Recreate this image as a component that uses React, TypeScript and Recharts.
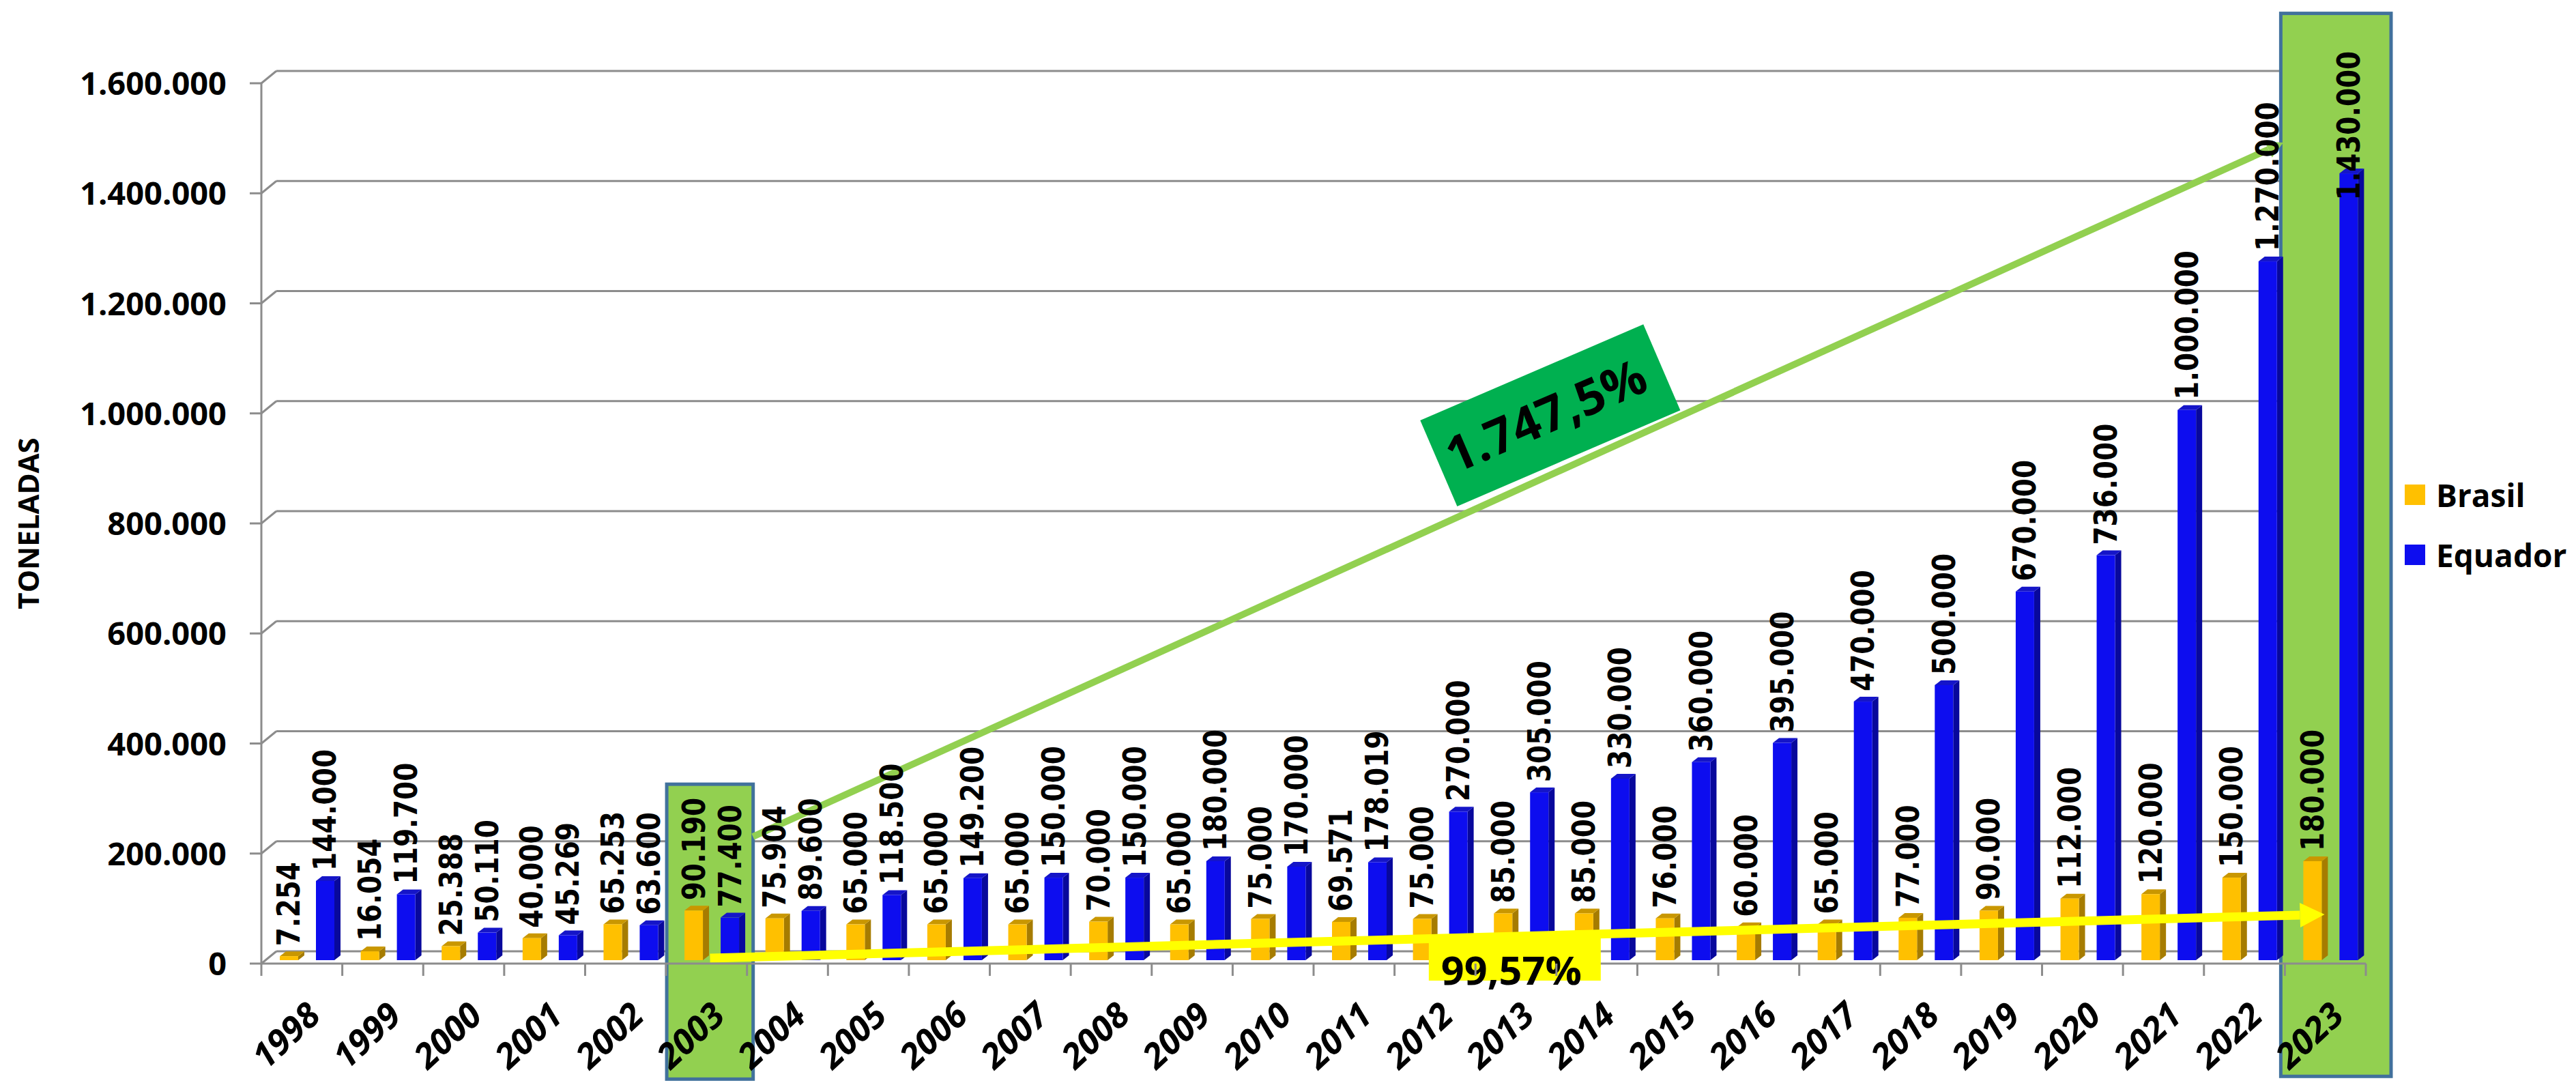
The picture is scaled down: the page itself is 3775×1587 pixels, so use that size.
import React from 'react';
import {
  BarChart, Bar, XAxis, YAxis, CartesianGrid, ReferenceArea, ReferenceLine,
  ReferenceDot, LabelList, Legend,
} from 'recharts';

// banana exports, toneladas
const years = [
  '1998', '1999', '2000', '2001', '2002', '2003', '2004', '2005', '2006', '2007', '2008', '2009', '2010',
  '2011', '2012', '2013', '2014', '2015', '2016', '2017', '2018', '2019', '2020', '2021', '2022', '2023',
];
const brasil = [
  7254, 16054, 25388, 40000, 65253, 90190, 75904, 65000, 65000, 65000, 70000, 65000, 75000,
  69571, 75000, 85000, 85000, 76000, 60000, 65000, 77000, 90000, 112000, 120000, 150000, 180000,
];
const equador = [
  144000, 119700, 50110, 45269, 63600, 77400, 89600, 118500, 149200, 150000, 150000, 180000, 170000,
  178019, 270000, 305000, 330000, 360000, 395000, 470000, 500000, 670000, 736000, 1000000, 1270000, 1430000,
];
const yTicks = [0, 200000, 400000, 600000, 800000, 1000000, 1200000, 1400000, 1600000];

const data = years.map((year, i) => ({ year, brasil: brasil[i], equador: equador[i] }));

const baseIdx = years.indexOf('2003');
const lastIdx = years.length - 1;

const W = 3775;
const H = 1587;
const AXIS_X = 383;
const PLOT_TOP = 122;
const PLOT_BOTTOM = 1412;
const PLOT_RIGHT = 3467;
const DX = 22;
const DY = 18;
const GRID = '#8c8c8c';
const FONT = '"Open Sans", "Noto Sans", sans-serif';

const fmt = (v: number) => Math.round(v).toString().replace(/\B(?=(\d{3})+(?!\d))/g, '.');
const fmtPct = (v: number, dec: number) => {
  const f = Math.pow(10, dec);
  const [i, d] = (Math.floor(v * f) / f).toFixed(dec).split('.');
  return fmt(Number(i)) + ',' + d + '%';
};
const greenPct = fmtPct((equador[lastIdx] / equador[baseIdx] - 1) * 100, 1);
const yellowPct = fmtPct((brasil[lastIdx] / brasil[baseIdx] - 1) * 100, 2);

const bar3d = (front: string, side: string, top: string) => (p: any) => {
  const { x, y, width, height } = p;
  if (width == null || height == null || height <= 0) return <g />;
  const bx = x + 8;
  const by = y - 5;
  const d = 9;
  const e = 7;
  return (
    <g>
      <polygon
        points={`${bx + width},${by} ${bx + width + d},${by - e} ${bx + width + d},${by + height - e} ${bx + width},${by + height}`}
        fill={side}
      />
      <polygon points={`${bx},${by} ${bx + d},${by - e} ${bx + width + d},${by - e} ${bx + width},${by}`} fill={top} />
      <rect x={bx} y={by} width={width} height={height} fill={front} />
    </g>
  );
};

const valueLabel = (p: any) => {
  const { x, y, width, value } = p;
  const s = fmt(Number(value));
  const len = s.split('').reduce((a, c) => a + (c === '.' ? 13 : 27.5), 0);
  const lx = x + 8 + width / 2 + 16;
  // keep the label inside the chart, as the original does for the tallest bar
  const ly = Math.max(y - 20, 75 + len);
  return (
    <text
      x={lx}
      y={ly}
      transform={`rotate(-90 ${lx} ${ly})`}
      fontFamily='"DejaVu Sans", sans-serif'
      fontWeight="bold"
      fontSize={46}
      textLength={len}
      lengthAdjust="spacingAndGlyphs"
      fill="#000"
    >
      {s}
    </text>
  );
};

const YTick = (p: any) => (
  <text x={p.x} y={p.y} dy={17} textAnchor="end" fontFamily={FONT} fontWeight="bold" fontSize={47} fill="#000">
    {fmt(p.payload.value)}
  </text>
);

const XTick = (p: any) => {
  const { x, payload, index, visibleTicksCount } = p;
  const off = payload.offset || 59.3;
  const lx = x + 30;
  const ly = PLOT_BOTTOM + 80;
  return (
    <g>
      <line x1={x - off} y1={PLOT_BOTTOM} x2={x - off} y2={PLOT_BOTTOM + 18} stroke={GRID} strokeWidth={3} />
      {index === visibleTicksCount - 1 && (
        <line x1={x + off} y1={PLOT_BOTTOM} x2={x + off} y2={PLOT_BOTTOM + 18} stroke={GRID} strokeWidth={3} />
      )}
      <text
        x={lx}
        y={ly}
        transform={`rotate(-43 ${lx} ${ly})`}
        textAnchor="end"
        fontFamily={FONT}
        fontWeight="bold"
        fontStyle="italic"
        fontSize={51}
        fill="#000"
      >
        {payload.value}
      </text>
    </g>
  );
};

const gridLine = (p: any) => {
  const { x1, y1, x2 } = p;
  const floor = y1 > PLOT_BOTTOM - 3;
  return (
    <g key={p.key}>
      <line x1={x1} y1={y1} x2={x1 + DX} y2={y1 - DY} stroke={GRID} strokeWidth={3} />
      <line x1={x1 + DX} y1={y1 - DY} x2={x2 + DX + 2} y2={y1 - DY} stroke={GRID} strokeWidth={3} />
      {floor && <line x1={x2} y1={y1} x2={x2 + DX + 2} y2={y1 - DY} stroke={GRID} strokeWidth={3} />}
    </g>
  );
};

const highlight = (padL: number, padR: number) => (p: any) => (
  <rect
    x={p.x - padL}
    y={p.y}
    width={p.width + padL + padR}
    height={p.height}
    fill="#92D050"
    stroke="#41719C"
    strokeWidth={5}
  />
);

const arrow = (color: string, w: number, headL: number, headW: number) => (p: any) => {
  const { x1, y1, x2, y2 } = p;
  const a = Math.atan2(y2 - y1, x2 - x1);
  const c = Math.cos(a);
  const s = Math.sin(a);
  const bx = x2 - headL * c;
  const by = y2 - headL * s;
  const nx = -s * headW / 2;
  const ny = c * headW / 2;
  return (
    <g>
      <line x1={x1} y1={y1} x2={bx} y2={by} stroke={color} strokeWidth={w} />
      <polygon points={`${x2},${y2} ${bx + nx},${by + ny} ${bx - nx},${by - ny}`} fill={color} />
    </g>
  );
};

const greenLabel = (p: any) => (
  <g transform={`translate(${p.cx},${p.cy}) rotate(-23.3)`}>
    <rect x={-178} y={-68} width={356} height={137} fill="#00B050" />
    <text x={-6} y={24} textAnchor="middle" fontFamily={FONT} fontWeight="bold" fontSize={72} fill="#000">
      {greenPct}
    </text>
  </g>
);

const yellowLabel = (p: any) => (
  <g>
    <rect x={p.cx - 126} y={p.cy - 32} width={252} height={64} fill="#FFFF00" />
    <text
      x={p.cx - 5}
      y={p.cy + 38}
      textAnchor="middle"
      fontFamily={FONT}
      fontWeight="bold"
      fontSize={58}
      textLength={206}
      lengthAdjust="spacingAndGlyphs"
      fill="#000"
    >
      {yellowPct}
    </text>
  </g>
);

const legendContent = (p: any) => (
  <div style={{ fontFamily: FONT, fontWeight: 700, fontSize: 46, color: '#000' }}>
    {(p.payload || []).map((e: any) => (
      <div key={e.value} style={{ display: 'flex', alignItems: 'center', height: 88 }}>
        <span style={{ display: 'inline-block', width: 30, height: 30, background: e.color, marginRight: 16 }} />
        {e.value}
      </div>
    ))}
  </div>
);

// annotation axis: 0 = left edge of the plot, last = right edge
const SPAN = years.length - 1;

export default function App() {
  return (
    <div style={{ width: W, height: H, background: '#fff', position: 'relative' }}>
      <style>{'body{margin:0;background:#fff}'}</style>
      <BarChart
        width={W}
        height={H}
        data={data}
        margin={{ top: PLOT_TOP, right: W - PLOT_RIGHT, bottom: 0, left: 0 }}
        barGap={26}
        barSize={27}
      >
        <CartesianGrid vertical={false} horizontal={gridLine} />
        <ReferenceArea x1="2003" x2="2003" y1={-210000} y2={326000} ifOverflow="visible" shape={highlight(-1, 9)} />
        <ReferenceArea x1="2023" x2="2023" y1={-205000} y2={1727000} ifOverflow="visible" shape={highlight(6, 37)} />
        <XAxis
          dataKey="year"
          height={H - PLOT_BOTTOM}
          interval={0}
          tickLine={false}
          axisLine={{ stroke: GRID, strokeWidth: 3 }}
          tick={XTick}
        />
        <XAxis xAxisId="n" type="number" domain={[0, SPAN]} allowDataOverflow hide />
        <YAxis
          width={AXIS_X}
          domain={[0, 1600000]}
          ticks={yTicks}
          interval={0}
          tickSize={17}
          tickMargin={34}
          tickLine={{ stroke: GRID, strokeWidth: 3 }}
          axisLine={{ stroke: GRID, strokeWidth: 3 }}
          tick={YTick}
          label={{
            value: 'TONELADAS',
            angle: -90,
            position: 'insideLeft',
            offset: 0,
            dx: 42,
            style: { fontFamily: FONT, fontWeight: 700, fontSize: 42, fill: '#000', textAnchor: 'middle' },
          }}
        />
        <Bar dataKey="brasil" name="Brasil" fill="#FFC000" shape={bar3d('#FFC000', '#A67C00', '#C99700')} isAnimationActive={false}>
          <LabelList dataKey="brasil" content={valueLabel} />
        </Bar>
        <Bar dataKey="equador" name="Equador" fill="#0D0DEF" shape={bar3d('#0D0DEF', '#08089C', '#1515C8')} isAnimationActive={false}>
          <LabelList dataKey="equador" content={valueLabel} />
        </Bar>
        <ReferenceLine
          xAxisId="n"
          segment={[{ x: 5.84, y: 230700 }, { x: 24.02, y: 1492000 }]}
          ifOverflow="visible"
          shape={arrow('#92D050', 10, 24, 26)}
        />
        <ReferenceLine
          xAxisId="n"
          segment={[{ x: 5.33, y: 9900 }, { x: 24.51, y: 89300 }]}
          ifOverflow="visible"
          shape={arrow('#FFFF00', 13, 36, 36)}
        />
        <ReferenceDot xAxisId="n" x={15.31} y={997000} r={1} ifOverflow="visible" shape={greenLabel} />
        <ReferenceDot xAxisId="n" x={14.89} y={8700} r={1} ifOverflow="visible" shape={yellowLabel} />
        <Legend
          layout="horizontal"
          verticalAlign="middle"
          align="center"
          content={legendContent}
          wrapperStyle={{ left: 3524, top: 681, width: 260 }}
        />
      </BarChart>
    </div>
  );
}
